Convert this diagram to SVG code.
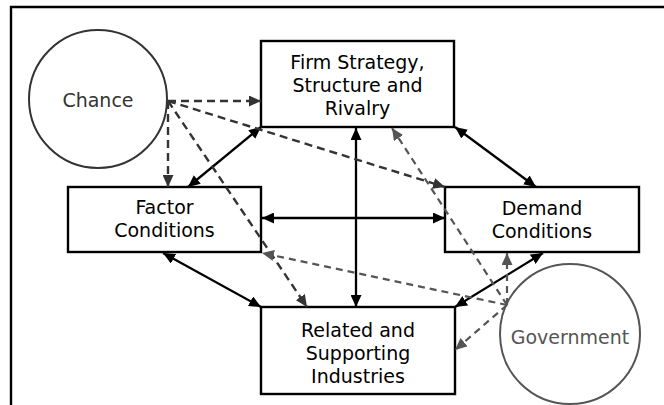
<svg xmlns="http://www.w3.org/2000/svg" width="664" height="405" viewBox="0 0 664 405">
<style>
.box{fill:#fff;stroke:#000;stroke-width:2.4}
.t{font-family:"DejaVu Sans",sans-serif;font-size:19px;fill:#000;text-anchor:middle}
.solid{stroke:#000;stroke-width:2.3;fill:none}
.dk{stroke:#333;stroke-width:2.4;stroke-dasharray:8,5;fill:none}
.gy{stroke:#555;stroke-width:2.2;stroke-dasharray:7,5;fill:none}
</style>
<defs>
<marker id="ab" markerUnits="userSpaceOnUse" markerWidth="12" markerHeight="11" refX="12" refY="5.5" orient="auto-start-reverse"><path d="M0,0 L12,5.5 L0,11 z" fill="#000"/></marker>
<marker id="ad" markerUnits="userSpaceOnUse" markerWidth="12" markerHeight="11" refX="12" refY="5.5" orient="auto"><path d="M0,0 L12,5.5 L0,11 z" fill="#333"/></marker>
<marker id="ag" markerUnits="userSpaceOnUse" markerWidth="12" markerHeight="11" refX="12" refY="5.5" orient="auto"><path d="M0,0 L12,5.5 L0,11 z" fill="#555"/></marker>
</defs>
<rect width="664" height="405" fill="#fff"/>
<path d="M11,410 L11,7 L670,7" fill="none" stroke="#000" stroke-width="2.4"/>
<g id="chance">
<circle cx="98" cy="99" r="69" fill="#fff" stroke="#333" stroke-width="2"/>
<text class="t" x="98" y="107" style="fill:#333">Chance</text>
</g>
<g id="government">
<circle cx="570" cy="334" r="70" fill="#fff" stroke="#555" stroke-width="2"/>
<text class="t" x="570" y="344" style="fill:#555">Government</text>
</g>
<g id="firm">
<rect class="box" x="261" y="41" width="193" height="86"/>
<text class="t" x="357.5" y="69">Firm Strategy,</text>
<text class="t" x="357.5" y="92">Structure and</text>
<text class="t" x="357.5" y="115">Rivalry</text>
</g>
<g id="factor">
<rect class="box" x="68" y="187" width="193" height="65"/>
<text class="t" x="164.5" y="214">Factor</text>
<text class="t" x="164.5" y="237">Conditions</text>
</g>
<g id="demand">
<rect class="box" x="445" y="187" width="194" height="65"/>
<text class="t" x="542" y="215">Demand</text>
<text class="t" x="542" y="238">Conditions</text>
</g>
<g id="related">
<rect class="box" x="261" y="307" width="194" height="87"/>
<text class="t" x="358" y="337">Related and</text>
<text class="t" x="358" y="360">Supporting</text>
<text class="t" x="358" y="383">Industries</text>
</g>
<g id="connectors">
<line class="solid" x1="188" y1="187" x2="261" y2="127" marker-start="url(#ab)" marker-end="url(#ab)"/>
<line class="solid" x1="455" y1="127" x2="536" y2="187" marker-start="url(#ab)" marker-end="url(#ab)"/>
<line class="solid" x1="356" y1="128" x2="356" y2="307" marker-start="url(#ab)" marker-end="url(#ab)"/>
<line class="solid" x1="262" y1="218" x2="445" y2="218" marker-start="url(#ab)" marker-end="url(#ab)"/>
<line class="solid" x1="163" y1="253" x2="261" y2="307" marker-start="url(#ab)" marker-end="url(#ab)"/>
<line class="solid" x1="543" y1="253" x2="455" y2="307" marker-start="url(#ab)" marker-end="url(#ab)"/>
<line class="dk" x1="168" y1="101" x2="261" y2="101" marker-end="url(#ad)"/>
<line class="dk" x1="168" y1="101" x2="168" y2="187" marker-end="url(#ad)"/>
<line class="dk" x1="168" y1="101" x2="445" y2="187" marker-end="url(#ad)"/>
<line class="dk" x1="168" y1="101" x2="307" y2="307" marker-end="url(#ad)"/>
<line class="gy" x1="507" y1="305" x2="392" y2="128" marker-end="url(#ag)"/>
<line class="gy" x1="507" y1="305" x2="262" y2="253" marker-end="url(#ag)"/>
<line class="gy" x1="507" y1="305" x2="507" y2="253" marker-end="url(#ag)"/>
<line class="gy" x1="507" y1="305" x2="455" y2="350" marker-end="url(#ag)"/>
</g>
</svg>
